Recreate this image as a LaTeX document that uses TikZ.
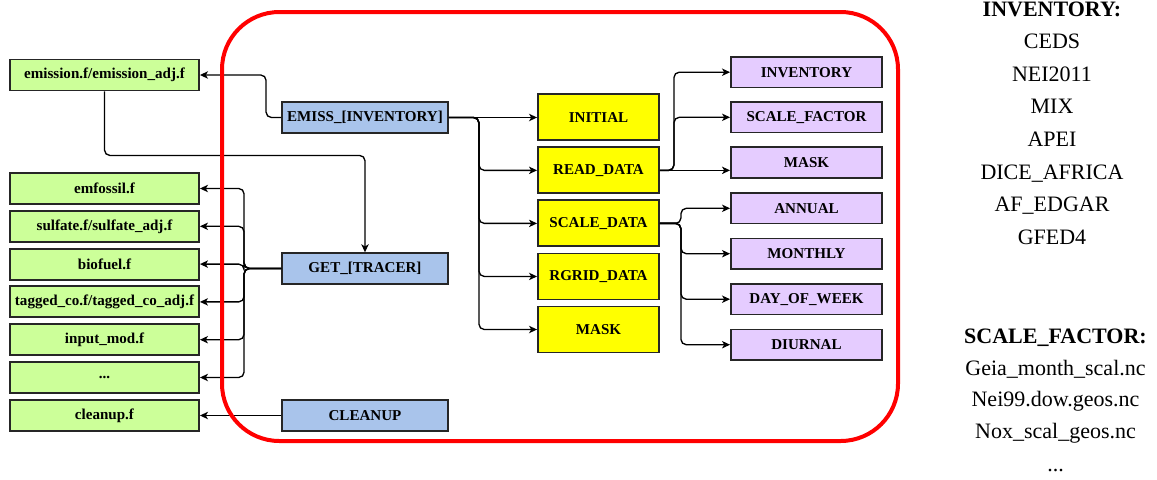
\documentclass[tikz,border=0pt]{standalone}
\usepackage{fontspec}
\setmainfont{Liberation Serif}
\usetikzlibrary{arrows.meta}
\definecolor{filegreen}{HTML}{CCFF99}
\definecolor{routineblue}{HTML}{A9C4EB}
\definecolor{stepyellow}{HTML}{FFFF00}
\definecolor{optpurple}{HTML}{E5CCFF}
\definecolor{framered}{HTML}{FF0000}
\newcommand\pxu{0.75pt}

\begin{document}
\begin{tikzpicture}[x=0.75pt,y=-0.75pt,
  box/.style={draw=black!85, line width=1.4pt, inner sep=0pt,
              font=\fontsize{11.3}{13}\selectfont\bfseries},
  filebox/.style={box, fill=filegreen, minimum width=189*\pxu, minimum height=31*\pxu},
  routine/.style={box, fill=routineblue, minimum width=166*\pxu, minimum height=30.5*\pxu},
  stepbox/.style={box, fill=stepyellow, minimum width=121*\pxu, minimum height=46*\pxu},
  optbox/.style={box, fill=optpurple, minimum width=151*\pxu, minimum height=30.5*\pxu},
  arr/.style={draw=black, line width=1pt, rounded corners=4pt,
              -{Stealth[length=6pt,width=5.5pt,inset=1.6pt]}},
  rtext/.style={anchor=base, inner sep=0pt, font=\fontsize{16.5}{20}\selectfont},
]
\useasboundingbox (0,0) rectangle (1157,479);

% source files
\node[filebox] (emis) at (104.5,75) {emission.f/emission\_adj.f};
\node[filebox] (f1) at (104.5,188.5) {emfossil.f};
\node[filebox] (f2) at (104.5,226.3) {sulfate.f/sulfate\_adj.f};
\node[filebox] (f3) at (104.5,264.1) {biofuel.f};
\node[filebox] (f4) at (104.5,301.9) {tagged\_co.f/tagged\_co\_adj.f};
\node[filebox] (f5) at (104.5,339.7) {input\_mod.f};
\node[filebox] (f6) at (104.5,377.5) {...};
\node[filebox] (f7) at (104.5,415.5) {cleanup.f};

% main routines
\node[routine] (emiss) at (365,117.5) {EMISS\_[INVENTORY]};
\node[routine] (get) at (365,268.5) {GET\_[TRACER]};
\node[routine] (clean) at (365,415.5) {CLEANUP};

% steps of EMISS
\node[stepbox] (y1) at (598.5,117.3) {INITIAL};
\node[stepbox] (y2) at (598.5,170.35) {READ\_DATA};
\node[stepbox] (y3) at (598.5,223.4) {SCALE\_DATA};
\node[stepbox] (y4) at (598.5,276.45) {RGRID\_DATA};
\node[stepbox] (y5) at (598.5,329.5) {MASK};

% data read and scaling options
\node[optbox] (p1) at (806.5,72.2) {INVENTORY};
\node[optbox] (p2) at (806.5,117.3) {SCALE\_FACTOR};
\node[optbox] (p3) at (806.5,162.5) {MASK};
\node[optbox] (p4) at (806.5,208.3) {ANNUAL};
\node[optbox] (p5) at (806.5,253.7) {MONTHLY};
\node[optbox] (p6) at (806.5,299.2) {DAY\_OF\_WEEK};
\node[optbox] (p7) at (806.5,344.7) {DIURNAL};

% connectors
\draw[arr] (emiss.west) -- ++(-15,0) |- (emis.east);
\draw[arr] (emis.south) -- ++(0,64) -| (get.north);
\foreach \f in {f1,f2,f3,f4,f5,f6}
  \draw[arr] (get.west) -- ++(-37,0) |- (\f.east);
\draw[arr] (clean.west) -- (clean.west -| f7.east);

\draw[arr] (emiss.east) -- (emiss.east -| y1.west);
\foreach \s in {y2,y3,y4,y5}
  \draw[arr] (emiss.east) -- ++(30,0) |- (\s.west);

\foreach \s in {p1,p2}
  \draw[arr] (y2.east) -- ++(14,0) |- (\s.west);
\draw[arr] (y2.east) -- (y2.east -| p3.west);

\foreach \s in {p4,p5,p6,p7}
  \draw[arr] (y3.east) -- ++(21,0) |- (\s.west);

% module frame
\draw[framered, line width=3pt, rounded corners=43pt] (222,12) rectangle (898,441);

% lists on the right
\node[rtext] (invh) at (1052,16) {\bfseries INVENTORY:};
\node[rtext] (inv1) at (1052,48.3) {CEDS};
\node[rtext] (inv2) at (1052,81) {NEI2011};
\node[rtext] (inv3) at (1052,113.6) {MIX};
\node[rtext] (inv4) at (1052,146.3) {APEI};
\node[rtext] (inv5) at (1052,179) {DICE\_AFRICA};
\node[rtext] (inv6) at (1052,211.6) {AF\_EDGAR};
\node[rtext] (inv7) at (1052,244.3) {GFED4};

\node[rtext] (sfh) at (1055.5,343.3) {\bfseries SCALE\_FACTOR:};
\node[rtext] (sf1) at (1055.5,375.7) {Geia\_month\_scal.nc};
\node[rtext] (sf2) at (1055.5,406.9) {Nei99.dow.geos.nc};
\node[rtext] (sf3) at (1055.5,438.3) {Nox\_scal\_geos.nc};
\node[rtext] (sf4) at (1055.5,471) {...};
\end{tikzpicture}
\end{document}
